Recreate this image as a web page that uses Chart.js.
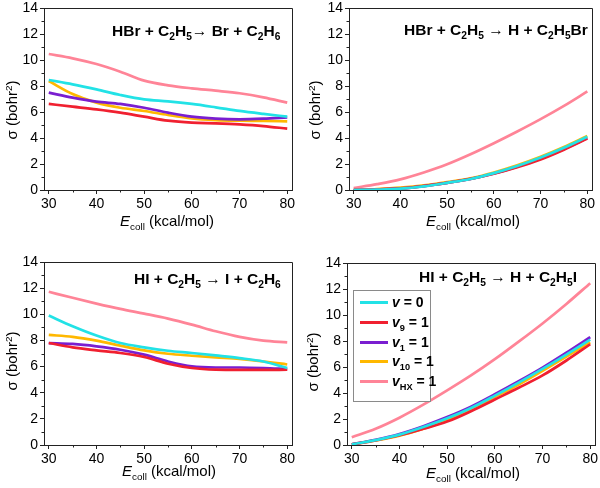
<!DOCTYPE html>
<html>
<head>
<meta charset="utf-8">
<script src="https://cdn.jsdelivr.net/npm/chart.js@4.4.1/dist/chart.umd.min.js"></script>
<style>
  body { margin: 0; background: #fff; font-family: "Liberation Sans", Arial, sans-serif; }
  #wrap { position: relative; width: 600px; height: 488px; overflow: hidden; }
  canvas { position: absolute; }
  .ttl { position: absolute; font-weight: bold; font-size: 15.5px; line-height: 16px; white-space: nowrap; color: #000; }
  .xl { position: absolute; font-size: 15px; line-height: 16px; white-space: nowrap; color: #000; }
  .yl { position: absolute; font-size: 15px; line-height: 16px; white-space: nowrap; color: #000;
        transform: translate(-50%, -50%) rotate(-90deg); }
  sub { font-size: 0.66em; vertical-align: baseline; position: relative; top: 0.38em; }
  sup { font-size: 0.66em; vertical-align: baseline; position: relative; top: -0.5em; }
  #legend { position: absolute; left: 353px; top: 290px; width: 76px; height: 110px; border: 1px solid #8a8a8a; background: #fff; }
  .row { position: absolute; left: 0; height: 16px; }
  .row .ln { position: absolute; left: 6px; top: 7px; width: 28px; height: 3px; }
  .row .tx { position: absolute; left: 38px; top: 0; font-weight: bold; font-size: 14px; line-height: 16px; white-space: nowrap; }
</style>
</head>
<body>
<div id="wrap">
  <canvas id="c1" width="300" height="244" style="left:0;top:0"></canvas>
  <canvas id="c2" width="300" height="244" style="left:300px;top:0"></canvas>
  <canvas id="c3" width="300" height="244" style="left:0;top:244px"></canvas>
  <canvas id="c4" width="300" height="244" style="left:300px;top:244px"></canvas>

  <div class="ttl" style="left:112px;top:23px">HBr + C<sub>2</sub>H<sub>5</sub>&#8594; Br + C<sub>2</sub>H<sub>6</sub></div>
  <div class="ttl" style="left:404px;top:22px">HBr + C<sub>2</sub>H<sub>5</sub> &#8594; H + C<sub>2</sub>H<sub>5</sub>Br</div>
  <div class="ttl" style="left:134px;top:271px">HI + C<sub>2</sub>H<sub>5</sub> &#8594; I + C<sub>2</sub>H<sub>6</sub></div>
  <div class="ttl" style="left:419px;top:269px">HI + C<sub>2</sub>H<sub>5</sub> &#8594; H + C<sub>2</sub>H<sub>5</sub>I</div>

  <div class="xl" style="left:120px;top:213px"><i>E</i><sub>coll</sub> (kcal/mol)</div>
  <div class="xl" style="left:426px;top:213px"><i>E</i><sub>coll</sub> (kcal/mol)</div>
  <div class="xl" style="left:122px;top:463px"><i>E</i><sub>coll</sub> (kcal/mol)</div>
  <div class="xl" style="left:426px;top:465px"><i>E</i><sub>coll</sub> (kcal/mol)</div>

  <div class="yl" style="left:13px;top:110px">&#963; (bohr<sup>2</sup>)</div>
  <div class="yl" style="left:316px;top:110px">&#963; (bohr<sup>2</sup>)</div>
  <div class="yl" style="left:13px;top:361px">&#963; (bohr<sup>2</sup>)</div>
  <div class="yl" style="left:314px;top:362px">&#963; (bohr<sup>2</sup>)</div>

  <div id="legend"></div>
</div>
<script>
const FONT = '"Liberation Sans", Arial, sans-serif';

// collision energies (kcal/mol)
const energies = [30, 35, 40, 45, 50, 55, 60, 65, 70, 75, 80];
const xTicks = [30, 40, 50, 60, 70, 80];

const seriesNames = ['v = 0', 'v9 = 1', 'v1 = 1', 'v10 = 1', 'vHX = 1'];
const seriesColors = ['#22e2e6', '#f02030', '#7a1ed0', '#ffb800', '#ff8497'];

// HBr + C2H5 -> Br + C2H6
const hbrAbsV0   = [8.46, 8.13, 7.74, 7.31, 6.97, 6.82, 6.62, 6.36, 6.08, 5.85, 5.64];
const hbrAbsV9   = [6.62, 6.41, 6.20, 5.95, 5.64, 5.33, 5.18, 5.13, 5.05, 4.92, 4.72];
const hbrAbsV1   = [7.49, 7.10, 6.80, 6.62, 6.33, 5.95, 5.64, 5.49, 5.44, 5.49, 5.59];
const hbrAbsV10  = [8.38, 7.38, 6.72, 6.33, 6.08, 5.77, 5.51, 5.38, 5.33, 5.31, 5.28];
const hbrAbsVHX  = [10.46, 10.13, 9.69, 9.10, 8.41, 8.05, 7.82, 7.64, 7.44, 7.13, 6.72];

// HBr + C2H5 -> H + C2H5Br
const hbrSubV0   = [0.00, 0.03, 0.10, 0.28, 0.55, 0.85, 1.30, 1.85, 2.50, 3.25, 4.10];
const hbrSubV9   = [0.00, 0.04, 0.12, 0.30, 0.55, 0.85, 1.25, 1.75, 2.35, 3.10, 3.95];
const hbrSubV1   = [0.00, 0.04, 0.12, 0.30, 0.55, 0.85, 1.27, 1.80, 2.40, 3.15, 4.00];
const hbrSubV10  = [0.00, 0.07, 0.18, 0.35, 0.60, 0.90, 1.35, 1.90, 2.55, 3.30, 4.15];
const hbrSubVHX  = [0.15, 0.45, 0.82, 1.35, 1.98, 2.75, 3.60, 4.50, 5.45, 6.47, 7.58];

// HI + C2H5 -> I + C2H6
const hiAbsV0    = [9.90, 9.08, 8.37, 7.80, 7.47, 7.21, 7.04, 6.85, 6.65, 6.39, 5.89];
const hiAbsV9    = [7.80, 7.47, 7.24, 7.04, 6.73, 6.22, 5.89, 5.76, 5.74, 5.74, 5.76];
const hiAbsV1    = [7.80, 7.73, 7.55, 7.29, 6.91, 6.39, 6.01, 5.93, 5.93, 5.89, 5.81];
const hiAbsV10   = [8.42, 8.27, 7.98, 7.60, 7.24, 6.98, 6.83, 6.70, 6.58, 6.39, 6.16];
const hiAbsVHX   = [11.72, 11.26, 10.82, 10.41, 10.05, 9.67, 9.21, 8.70, 8.27, 7.98, 7.85];

// HI + C2H5 -> H + C2H5I
const hiSubV0    = [0.05, 0.38, 0.80, 1.38, 2.05, 2.85, 3.80, 4.80, 5.85, 6.95, 8.10];
const hiSubV9    = [0.05, 0.36, 0.75, 1.25, 1.80, 2.60, 3.50, 4.40, 5.35, 6.50, 7.75];
const hiSubV1    = [0.05, 0.40, 0.85, 1.45, 2.15, 2.95, 3.90, 4.90, 5.95, 7.10, 8.30];
const hiSubV10   = [0.05, 0.35, 0.72, 1.25, 1.90, 2.75, 3.70, 4.65, 5.70, 6.80, 7.90];
const hiSubVHX   = [0.60, 1.25, 2.10, 3.10, 4.20, 5.35, 6.60, 7.95, 9.35, 10.85, 12.45];

// frame on top/right + minor ticks
const framePlugin = {
    id: 'frame',
    afterDraw(chart) {
        const { ctx, chartArea: a, scales } = chart;
        ctx.save();
        ctx.strokeStyle = '#222';
        ctx.lineWidth = 1;
        ctx.beginPath();
        ctx.moveTo(a.left, a.top + 0.5);
        ctx.lineTo(a.right + 0.5, a.top + 0.5);
        ctx.lineTo(a.right + 0.5, a.bottom);
        ctx.stroke();
        ctx.beginPath();
        for (let v = 1; v < 14; v += 2) {
            const y = Math.round(scales.y.getPixelForValue(v)) + 0.5;
            ctx.moveTo(a.left, y);
            ctx.lineTo(a.left - 2.5, y);
        }
        for (let v = 35; v < 80; v += 10) {
            const x = Math.round(scales.x.getPixelForValue(v)) + 0.5;
            ctx.moveTo(x, a.bottom);
            ctx.lineTo(x, a.bottom + 2.5);
        }
        ctx.stroke();
        ctx.restore();
    }
};

function makePanel(id, pad, yWidth, xHeight, sets) {
    const datasets = sets.map((vals, i) => ({
        label: seriesNames[i],
        data: energies.map((x, k) => ({ x: x, y: vals[k] })),
        borderColor: seriesColors[i],
        borderWidth: 2.7,
        pointRadius: 0,
        fill: false,
        cubicInterpolationMode: 'monotone'
    }));
    const axisCommon = {
        grid: { drawOnChartArea: false, tickLength: 4, tickColor: '#222', tickWidth: 1 },
        border: { color: '#222', width: 1 },
        ticks: { color: '#000', font: { family: FONT, size: 14 }, padding: 2, maxRotation: 0 }
    };
    return new Chart(document.getElementById(id), {
        type: 'line',
        data: { datasets: datasets },
        options: {
            responsive: false,
            animation: false,
            layout: { padding: pad },
            plugins: { legend: { display: false }, tooltip: { enabled: false } },
            scales: {
                x: Object.assign({}, axisCommon, {
                    type: 'linear', min: 29, max: 81,
                    afterBuildTicks: (s) => { s.ticks = xTicks.map(v => ({ value: v })); },
                    afterFit: (s) => { s.height = xHeight; s.paddingLeft = 0; s.paddingRight = 0; }
                }),
                y: Object.assign({}, axisCommon, {
                    min: 0, max: 14,
                    ticks: Object.assign({}, axisCommon.ticks, { stepSize: 2 }),
                    afterFit: (s) => { s.width = yWidth; s.paddingTop = 0; s.paddingBottom = 0; }
                })
            }
        },
        plugins: [framePlugin]
    });
}

makePanel('c1', { left: 0, right: 8, top: 8, bottom: 0 }, 44, 54,
    [hbrAbsV0, hbrAbsV9, hbrAbsV1, hbrAbsV10, hbrAbsVHX]);
makePanel('c2', { left: 0, right: 8, top: 8, bottom: 0 }, 49, 54,
    [hbrSubV0, hbrSubV9, hbrSubV1, hbrSubV10, hbrSubVHX]);
makePanel('c3', { left: 0, right: 8, top: 18, bottom: 0 }, 44, 43,
    [hiAbsV0, hiAbsV9, hiAbsV1, hiAbsV10, hiAbsVHX]);
makePanel('c4', { left: 0, right: 5, top: 19, bottom: 0 }, 47, 43,
    [hiSubV0, hiSubV9, hiSubV1, hiSubV10, hiSubVHX]);

// legend (panel 4)
const legendLabels = [
    '<i>v</i> = 0',
    '<i>v</i><sub>9</sub> = 1',
    '<i>v</i><sub>1</sub> = 1',
    '<i>v</i><sub>10</sub> = 1',
    '<i>v</i><sub>HX</sub> = 1'
];
const legendRowTops = [3, 23, 43, 62, 82];
const legend = document.getElementById('legend');
legendLabels.forEach((html, i) => {
    const row = document.createElement('div');
    row.className = 'row';
    row.style.top = legendRowTops[i] + 'px';
    row.innerHTML = '<div class="ln" style="background:' + seriesColors[i] + '"></div><div class="tx">' + html + '</div>';
    legend.appendChild(row);
});
</script>
</body>
</html>
